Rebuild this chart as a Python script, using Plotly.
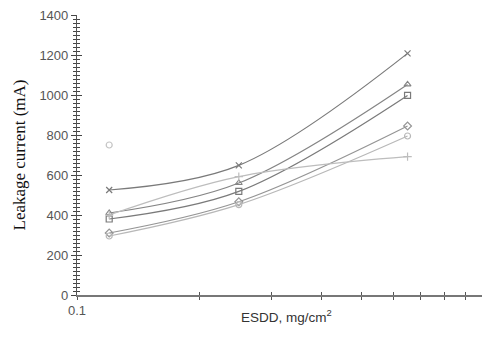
import plotly.graph_objects as go

esdd = [0.12, 0.25, 0.65]
s_x = [525, 648, 1208]
s_tri = [410, 560, 1053]
s_sq = [380, 518, 998]
s_dia = [310, 466, 845]
s_cir = [295, 452, 795]
s_plus = [400, 592, 692]
stray_x = [0.12]
stray_y = [750]

x_major = [0.1]
x_major_text = ["0.1"]
x_minor = [0.2, 0.3, 0.4, 0.5, 0.6, 0.7, 0.8, 0.9]
y_ticks = [0, 200, 400, 600, 800, 1000, 1200, 1400]

series = [
    ("x", s_x, "x-thin", "#7a7a7a"),
    ("tri", s_tri, "triangle-up-open", "#858585"),
    ("sq", s_sq, "square-open", "#7a7a7a"),
    ("dia", s_dia, "diamond-open", "#959595"),
    ("cir", s_cir, "circle-open", "#b8b8b8"),
    ("plus", s_plus, "cross-thin", "#bdbdbd"),
]

fig = go.Figure()
for name, ys, sym, col in series:
    fig.add_trace(go.Scatter(
        x=esdd, y=ys, mode="lines+markers", name=name,
        line=dict(color=col, width=1.2, shape="spline", smoothing=1.0),
        marker=dict(symbol=sym, size=6, color=col, line=dict(color=col, width=1.2)),
        showlegend=False, cliponaxis=False))
fig.add_trace(go.Scatter(
    x=stray_x, y=stray_y, mode="markers",
    marker=dict(symbol="circle-open", size=6, color="#c4c4c4", line=dict(color="#c4c4c4", width=1.2)),
    showlegend=False))
fig.add_trace(go.Scatter(x=[0.1], y=[0], xaxis="x2", yaxis="y2", mode="markers",
                         marker=dict(opacity=0), showlegend=False, hoverinfo="skip"))

xr = [-1, -0.004]
yr = [0, 1400]
tickfont = dict(family="Liberation Sans, Arial", size=13, color="#555555")

fig.update_layout(
    width=482, height=349,
    margin=dict(l=77, r=0, t=15, b=54),
    paper_bgcolor="white", plot_bgcolor="white",
    xaxis=dict(type="log", range=xr, tickmode="array", tickvals=x_major, ticktext=x_major_text,
               ticks="outside", ticklen=3, tickwidth=1, tickcolor="#555",
               minor=dict(tickmode="array", tickvals=x_minor, ticks="outside", ticklen=3, tickwidth=1, tickcolor="#555"),
               showline=True, linecolor="#777777", linewidth=1.5, showgrid=False, zeroline=False,
               tickfont=tickfont, automargin=False),
    yaxis=dict(range=yr, tickmode="array", tickvals=y_ticks,
               ticks="outside", ticklen=5, tickwidth=1, tickcolor="#444",
               minor=dict(dtick=20, ticks="outside", ticklen=3, tickcolor="#444", tickwidth=1),
               showline=True, linecolor="#555555", linewidth=1.2, showgrid=False, zeroline=False,
               tickfont=tickfont, automargin=False,
               title=dict(text="Leakage current (mA)", font=dict(family="Liberation Serif, Times New Roman", size=17, color="#111"), standoff=9)),
    xaxis2=dict(type="log", range=xr, overlaying="x", tickmode="array", tickvals=x_major,
                ticks="inside", ticklen=3, tickwidth=1, tickcolor="#555", showticklabels=False,
                minor=dict(tickmode="array", tickvals=x_minor, ticks="inside", ticklen=3, tickwidth=1, tickcolor="#555"),
                showline=False, showgrid=False, zeroline=False, automargin=False),
    yaxis2=dict(range=yr, overlaying="y", tickmode="array", tickvals=y_ticks,
                ticks="inside", ticklen=5, tickwidth=1, tickcolor="#444",
                minor=dict(dtick=20, ticks="inside", ticklen=3, tickcolor="#444", tickwidth=1),
                showticklabels=False, showline=False, showgrid=False, zeroline=False, automargin=False),
    annotations=[dict(text="ESDD, mg/cm<sup>2</sup>", xref="paper", yref="paper", x=0.518, y=0,
                      xanchor="center", yanchor="middle", yshift=-21, showarrow=False,
                      font=dict(family="Liberation Sans, Arial", size=13.5, color="#333"))],
)
fig.write_html("out.html", config={"displayModeBar": False})
with open("out.html", "r", encoding="utf-8") as f:
    html = f.read()
html = html.replace("<head>", "<head><style>html,body{margin:0;padding:0;}</style>", 1)
with open("out.html", "w", encoding="utf-8") as f:
    f.write(html)
